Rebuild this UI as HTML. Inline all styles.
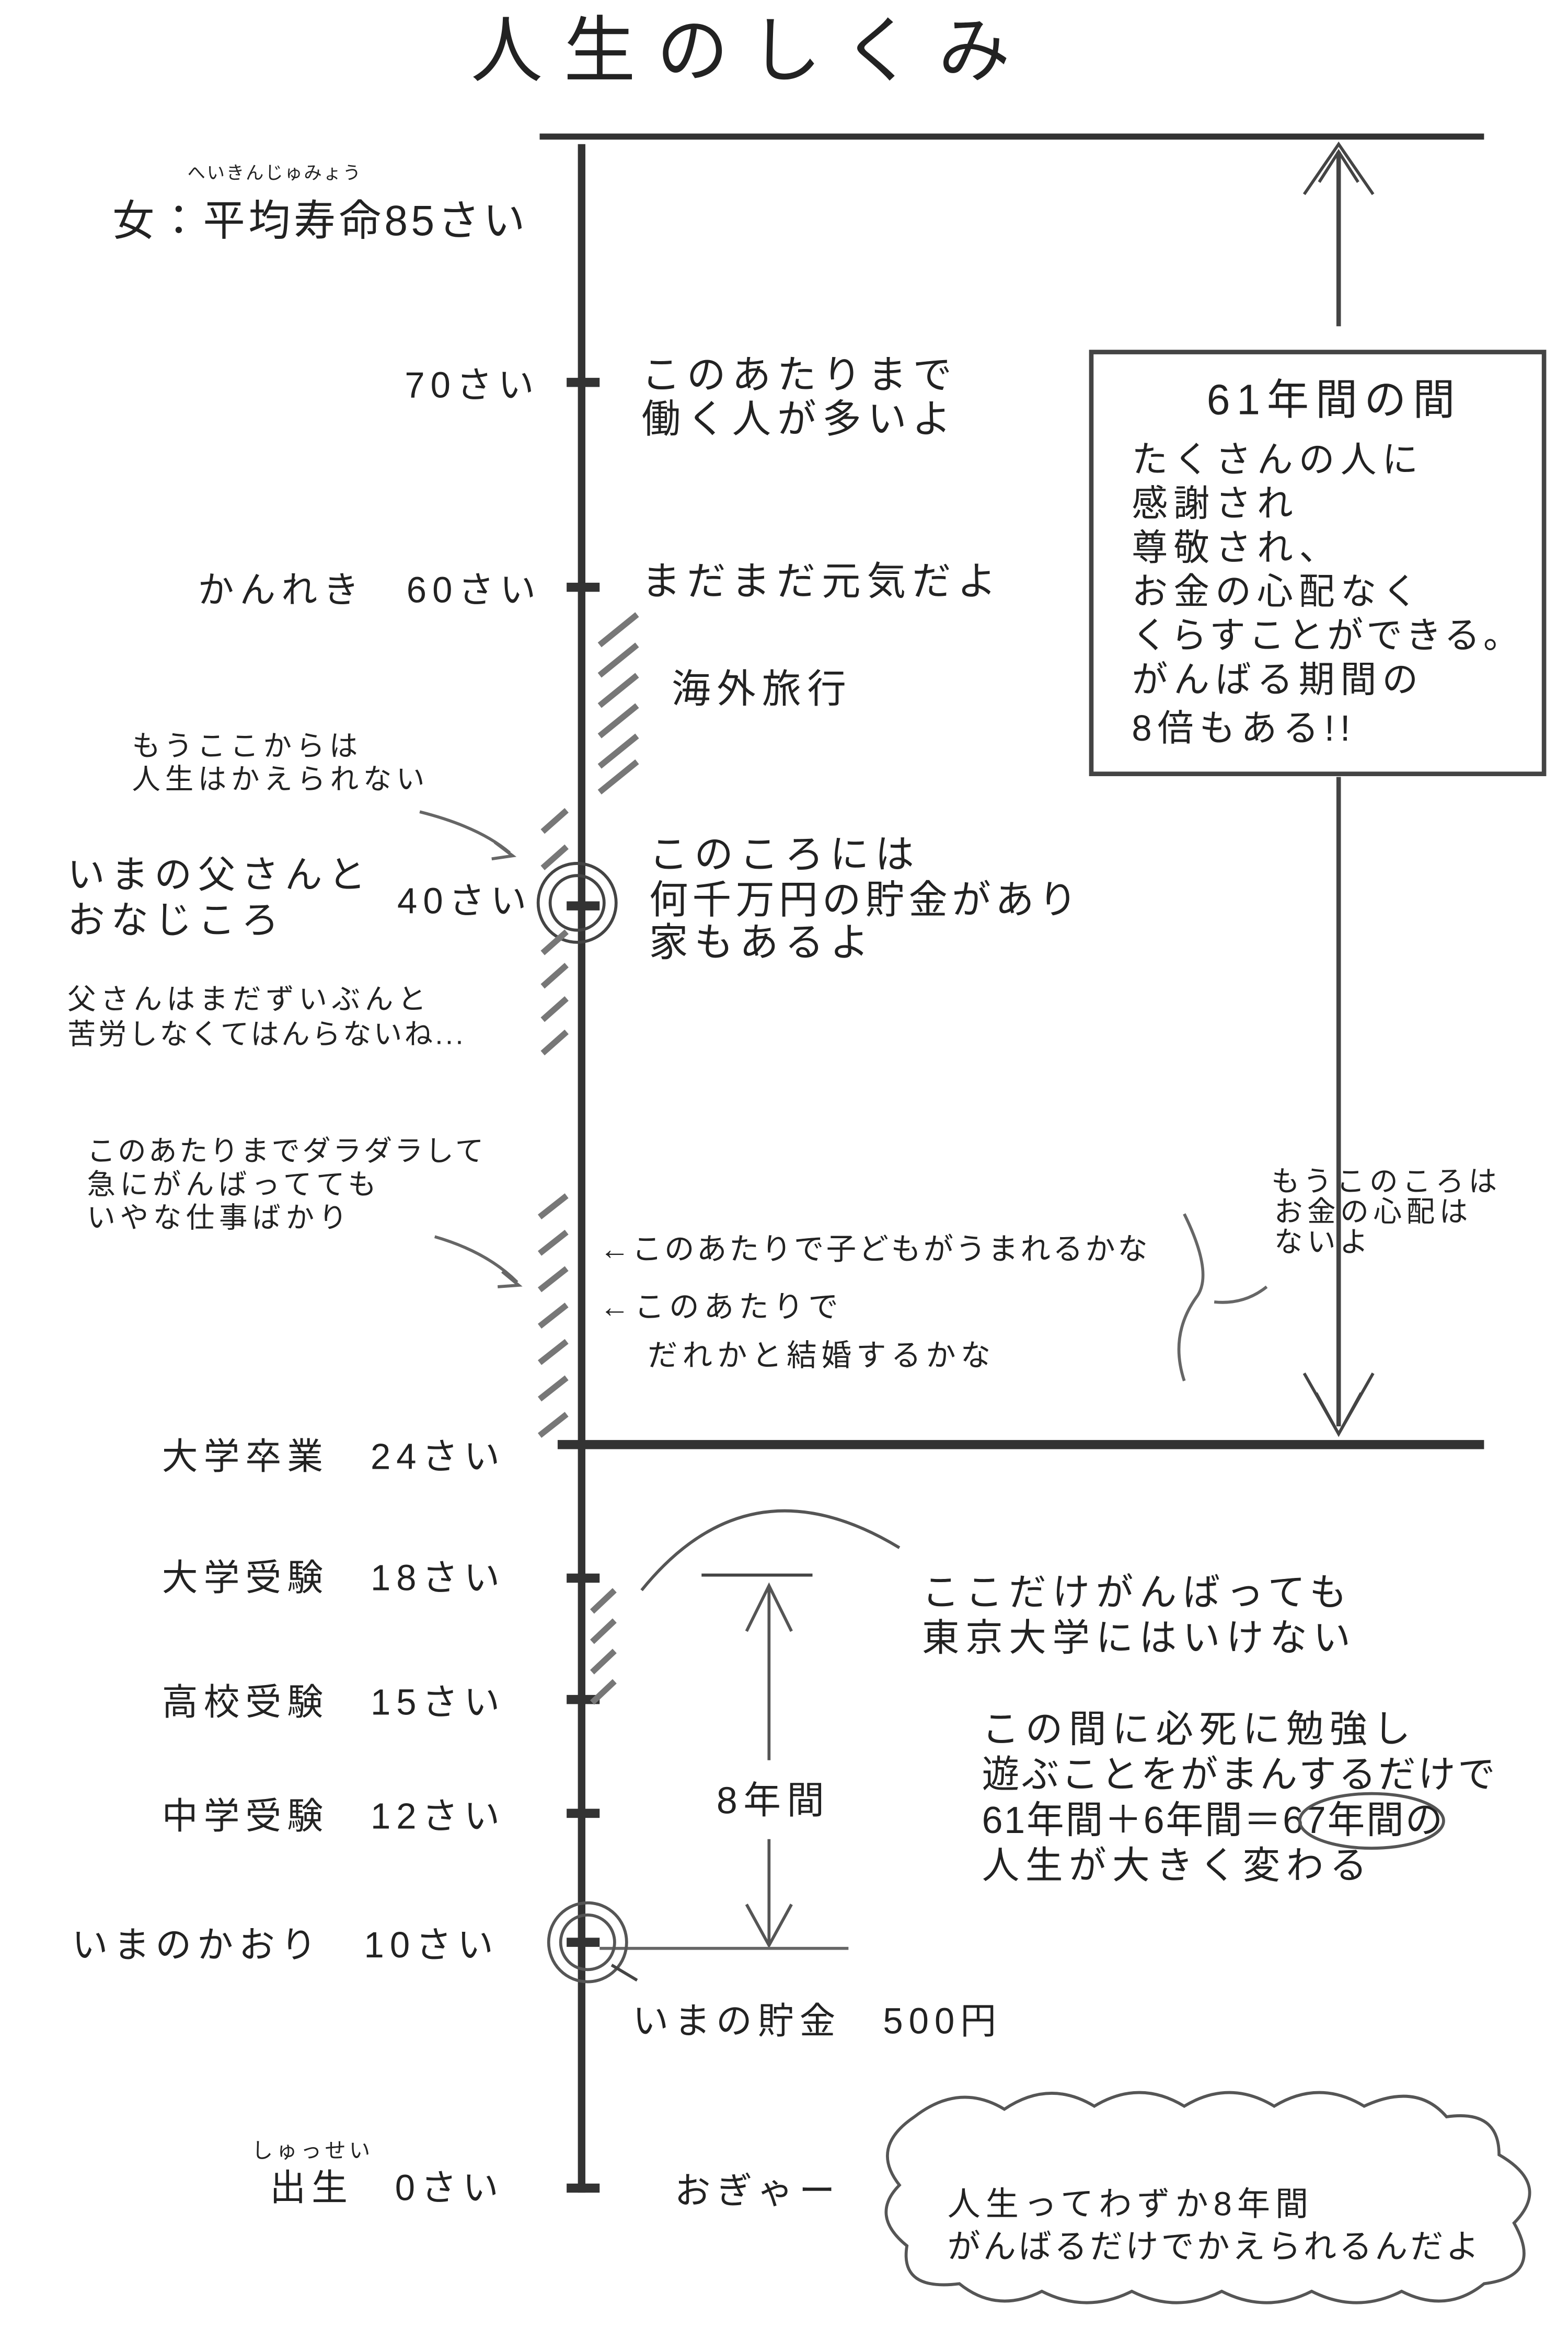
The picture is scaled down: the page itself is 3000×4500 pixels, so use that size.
<!DOCTYPE html>
<html><head><meta charset="utf-8">
<style>
html,body{margin:0;padding:0;background:#fff;}
svg{display:block;width:3000px;height:4500px;}
text{font-family:"Liberation Sans","Noto Sans CJK JP",sans-serif;fill:#222;letter-spacing:0.16em;}
.s{letter-spacing:0.08em;}
</style></head>
<body>
<svg viewBox="0 0 1046 1550" preserveAspectRatio="none" xmlns="http://www.w3.org/2000/svg">
<rect width="1046" height="1550" fill="#fff"/>
<text x="314" y="50" font-size="48" style="letter-spacing:14px">人生のしくみ</text>

<line x1="360" y1="90" x2="990" y2="90" stroke="#333" stroke-width="4"/>
<line x1="388" y1="95" x2="388" y2="1445" stroke="#333" stroke-width="5"/>
<line x1="372" y1="952" x2="990" y2="952" stroke="#333" stroke-width="6"/>

<line x1="893" y1="100" x2="893" y2="215" stroke="#444" stroke-width="3"/>
<path d="M870 128 L893 95 L916 128 M880 120 L893 100 L906 120" fill="none" stroke="#444" stroke-width="2"/>
<rect x="728" y="232" width="302" height="278" fill="#fff" stroke="#444" stroke-width="3"/>
<text x="805" y="273" font-size="28">61年間の間</text>
<g font-size="24">
<text x="755" y="311">たくさんの人に</text>
<text x="755" y="340">感謝され</text>
<text x="755" y="369">尊敬され、</text>
<text x="755" y="398">お金の心配なく</text>
<text x="755" y="427" style="letter-spacing:0.09em">くらすことができる。</text>
<text x="755" y="456">がんばる期間の</text>
<text x="755" y="488">8倍もある!!</text>
</g>
<line x1="893" y1="512" x2="893" y2="940" stroke="#444" stroke-width="3"/>
<path d="M870 905 L893 945 L916 905 M878 918 L893 945 L908 918" fill="none" stroke="#444" stroke-width="2"/>

<g stroke="#333" stroke-width="6">
<line x1="378" y1="252" x2="400" y2="252"/>
<line x1="378" y1="387" x2="400" y2="387"/>
<line x1="378" y1="597" x2="400" y2="597"/>
<line x1="378" y1="1040" x2="400" y2="1040"/>
<line x1="378" y1="1120" x2="400" y2="1120"/>
<line x1="378" y1="1195" x2="400" y2="1195"/>
<line x1="378" y1="1280" x2="400" y2="1280"/>
<line x1="378" y1="1442" x2="400" y2="1442"/>
</g>

<text x="125" y="118" font-size="12" class="s">へいきんじゅみょう</text>
<text x="75" y="155" font-size="28" class="s">女：平均寿命85さい</text>
<text x="270" y="262" font-size="24">70さい</text>
<text x="132" y="397" font-size="24">かんれき　60さい</text>
<text x="88" y="498" font-size="19">もうここからは</text>
<text x="88" y="520" font-size="19">人生はかえられない</text>
<text x="45" y="585" font-size="25">いまの父さんと</text>
<text x="45" y="615" font-size="25">おなじころ</text>
<text x="265" y="602" font-size="24">40さい</text>
<text x="45" y="665" font-size="19">父さんはまだずいぶんと</text>
<text x="45" y="688" font-size="19" class="s">苦労しなくてはんらないね...</text>
<text x="58" y="765" font-size="19" class="s">このあたりまでダラダラして</text>
<text x="58" y="787" font-size="19">急にがんばってても</text>
<text x="58" y="809" font-size="19">いやな仕事ばかり</text>
<text x="108" y="968" font-size="24">大学卒業　24さい</text>
<text x="108" y="1048" font-size="24">大学受験　18さい</text>
<text x="108" y="1130" font-size="24">高校受験　15さい</text>
<text x="108" y="1205" font-size="24">中学受験　12さい</text>
<text x="48" y="1290" font-size="24">いまのかおり　10さい</text>
<text x="168" y="1422" font-size="14">しゅっせい</text>
<text x="180" y="1450" font-size="24">出生　0さい</text>

<g font-size="26">
<text x="428" y="256">このあたりまで</text>
<text x="428" y="285">働く人が多いよ</text>
<text x="428" y="392">まだまだ元気だよ</text>
<text x="448" y="463">海外旅行</text>
<text x="433" y="572">このころには</text>
<text x="433" y="602" style="letter-spacing:0.11em">何千万円の貯金があり</text>
<text x="433" y="630">家もあるよ</text>
</g>
<text x="400" y="830" font-size="20" class="s">←このあたりで子どもがうまれるかな</text>
<text x="400" y="868" font-size="20">←このあたりで</text>
<text x="432" y="900" font-size="20">だれかと結婚するかな</text>
<text x="848" y="785" font-size="19">もうこのころは</text>
<text x="850" y="805" font-size="19">お金の心配は</text>
<text x="850" y="825" font-size="19">ないよ</text>
<path d="M845 848 Q830 860 810 858 M790 800 Q810 840 798 855 Q780 880 790 910" fill="none" stroke="#666" stroke-width="2"/>

<text x="615" y="1058" font-size="25">ここだけがんばっても</text>
<text x="615" y="1088" font-size="25">東京大学にはいけない</text>
<path d="M428 1048 Q500 960 600 1020" fill="none" stroke="#555" stroke-width="2"/>
<line x1="468" y1="1038" x2="542" y2="1038" stroke="#444" stroke-width="2"/>
<line x1="513" y1="1045" x2="513" y2="1160" stroke="#555" stroke-width="2"/>
<path d="M498 1075 L513 1045 L528 1075" fill="none" stroke="#555" stroke-width="2"/>
<text x="478" y="1195" font-size="25">8年間</text>
<line x1="513" y1="1212" x2="513" y2="1280" stroke="#555" stroke-width="2"/>
<path d="M498 1255 L513 1282 L528 1255" fill="none" stroke="#555" stroke-width="2"/>
<line x1="400" y1="1284" x2="566" y2="1284" stroke="#666" stroke-width="2"/>

<g font-size="25">
<text x="655" y="1148">この間に必死に勉強し</text>
<text x="655" y="1178" style="letter-spacing:0.06em">遊ぶことをがまんするだけで</text>
<text x="655" y="1208" style="letter-spacing:0.04em">61年間＋6年間＝67年間の</text>
<text x="655" y="1238">人生が大きく変わる</text>
</g>
<ellipse cx="915" cy="1200" rx="48" ry="18" fill="none" stroke="#555" stroke-width="2"/>
<text x="422" y="1340" font-size="24">いまの貯金　500円</text>
<text x="450" y="1452" font-size="24">おぎゃー</text>

<circle cx="385" cy="595" r="26" fill="none" stroke="#444" stroke-width="2"/>
<circle cx="385" cy="595" r="18" fill="none" stroke="#444" stroke-width="2"/>
<circle cx="392" cy="1280" r="26" fill="none" stroke="#555" stroke-width="2"/>
<circle cx="392" cy="1280" r="18" fill="none" stroke="#555" stroke-width="2"/>
<path d="M425 1305 L408 1295" stroke="#444" stroke-width="2"/>

<g stroke="#777" stroke-width="4">
<line x1="400" y1="425" x2="425" y2="405"/>
<line x1="400" y1="445" x2="425" y2="425"/>
<line x1="400" y1="465" x2="425" y2="445"/>
<line x1="400" y1="485" x2="425" y2="465"/>
<line x1="400" y1="505" x2="425" y2="485"/>
<line x1="400" y1="522" x2="425" y2="502"/>
<line x1="362" y1="548" x2="378" y2="534"/>
<line x1="362" y1="572" x2="378" y2="558"/>
<line x1="362" y1="628" x2="378" y2="614"/>
<line x1="362" y1="650" x2="378" y2="636"/>
<line x1="362" y1="672" x2="378" y2="658"/>
<line x1="362" y1="694" x2="378" y2="680"/>
<line x1="360" y1="802" x2="378" y2="788"/>
<line x1="360" y1="826" x2="378" y2="812"/>
<line x1="360" y1="850" x2="378" y2="836"/>
<line x1="360" y1="874" x2="378" y2="860"/>
<line x1="360" y1="898" x2="378" y2="884"/>
<line x1="360" y1="922" x2="378" y2="908"/>
<line x1="360" y1="946" x2="378" y2="932"/>
<line x1="395" y1="1062" x2="410" y2="1048"/>
<line x1="395" y1="1082" x2="410" y2="1068"/>
<line x1="395" y1="1102" x2="410" y2="1088"/>
<line x1="395" y1="1122" x2="410" y2="1108"/>
</g>
<path d="M280 535 Q320 545 340 562 M330 555 L342 564 L328 566" fill="none" stroke="#666" stroke-width="2"/>
<path d="M290 815 Q325 825 345 845 M335 838 L346 847 L332 848" fill="none" stroke="#666" stroke-width="2"/>

<path d="M610 1395 Q640 1372 670 1390 Q700 1370 730 1388 Q760 1370 790 1388 Q820 1370 850 1388 Q880 1370 910 1388 Q945 1372 965 1395 Q1000 1390 1000 1420 Q1035 1440 1010 1465 Q1030 1500 990 1505 Q965 1525 935 1510 Q905 1525 875 1510 Q845 1525 815 1510 Q785 1525 755 1510 Q725 1525 695 1510 Q665 1525 640 1505 Q600 1510 605 1480 Q580 1460 600 1440 Q580 1415 610 1395 Z" fill="#fff" stroke="#555" stroke-width="2"/>
<text x="632" y="1460" font-size="22">人生ってわずか8年間</text>
<text x="632" y="1488" font-size="22" class="s">がんばるだけでかえられるんだよ</text>
</svg>
</body></html>
